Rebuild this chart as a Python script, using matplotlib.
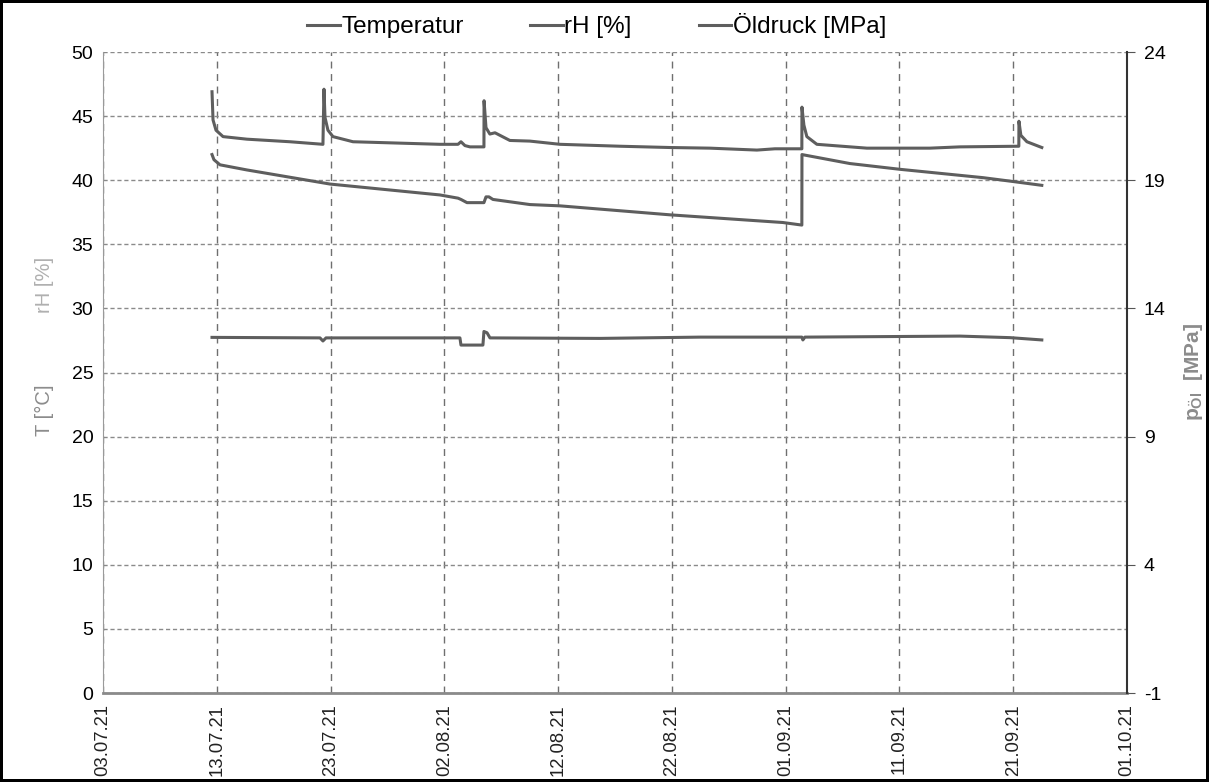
import numpy as np
import pandas as pd
import matplotlib
matplotlib.use("Agg")
import matplotlib.pyplot as plt
import matplotlib.dates as mdates

plt.rcParams['font.family'] = ['Liberation Sans', 'DejaVu Sans']
plt.rcParams['axes.unicode_minus'] = False
plt.rcParams['mathtext.fontset'] = 'custom'
plt.rcParams['mathtext.rm'] = 'Liberation Sans'
plt.rcParams['mathtext.bf'] = 'Liberation Sans:bold'

# start of the x range, all times below are days after this
START = pd.Timestamp('2021-07-03')
END = pd.Timestamp('2021-10-01')

# rH [%]
rh_days = [9.58, 9.67, 9.93, 10.55, 12.65, 16.43, 19.33, 19.42, 19.51, 19.77, 20.21, 21.97,
           29.61, 31.2, 31.46, 31.81, 32.25, 33.48, 33.49, 33.66, 34.0, 34.45, 35.76, 37.52,
           40.16, 45.43, 49.82, 53.34, 57.47, 59.05, 61.42, 61.43, 61.6, 61.86, 62.74, 67.14,
           72.67, 75.31, 80.49, 80.5, 80.67, 81.2, 82.51]
rh_vals = [46.9, 44.7, 43.9, 43.4, 43.2, 43.0, 42.8, 47.1, 44.9, 43.9, 43.4, 43.0,
           42.8, 42.8, 43.0, 42.7, 42.6, 42.6, 46.2, 44.1, 43.6, 43.7, 43.1, 43.05,
           42.8, 42.65, 42.55, 42.5, 42.35, 42.45, 42.45, 45.7, 44.3, 43.4, 42.8, 42.5,
           42.5, 42.6, 42.65, 44.6, 43.5, 43.0, 42.55]

# Temperatur [°C]
t_days = [9.58, 9.75, 10.28, 12.65, 19.95, 29.61, 31.2, 31.46, 31.99, 33.48, 33.66, 33.92,
          34.27, 37.52, 40.16, 49.82, 59.75, 61.42, 61.43, 65.64, 70.04, 77.33, 79.96, 82.51]
t_vals = [42.0, 41.6, 41.2, 40.8, 39.7, 38.85, 38.6, 38.5, 38.25, 38.25, 38.7, 38.7,
          38.5, 38.1, 38.0, 37.3, 36.7, 36.5, 42.0, 41.3, 40.85, 40.2, 39.9, 39.6]

# Öldruck [MPa]
p_days = [9.58, 19.07, 19.33, 19.6, 29.61, 31.37, 31.46, 33.39, 33.48, 33.75, 34.01,
          43.68, 52.47, 61.42, 61.51, 61.69, 75.31, 79.7, 82.51]
p_vals = [12.87, 12.85, 12.73, 12.85, 12.85, 12.85, 12.57, 12.57, 13.1, 13.05, 12.85,
          12.83, 12.88, 12.88, 12.77, 12.88, 12.92, 12.86, 12.77]

left_ticks = [0, 5, 10, 15, 20, 25, 30, 35, 40, 45, 50]
right_ticks = [-1, 4, 9, 14, 19, 24]

line_col = '#5e5e5e'


def to_dates(days):
    return START + pd.to_timedelta(days, unit='D')


fig = plt.figure(figsize=(12.09, 7.82), dpi=100)
fig.patch.set_edgecolor('black')
fig.patch.set_linewidth(3)
ax = fig.add_axes([0.0852, 0.1138, 0.847, 0.8197])
ax2 = ax.twinx()

l1, = ax.plot(to_dates(t_days), t_vals, color=line_col, lw=2.2, label='Temperatur')
l2, = ax.plot(to_dates(rh_days), rh_vals, color=line_col, lw=2.2, label='rH [%]')
l3, = ax2.plot(to_dates(p_days), p_vals, color=line_col, lw=2.2, label='Öldruck [MPa]')

ax.set_xlim(START, END)
ax.set_ylim(0, 50)
ax2.set_ylim(-1, 24)
ax.set_yticks(left_ticks)
ax2.set_yticks(right_ticks)
ax.set_xticks(pd.date_range(START, END, freq='10D'))
ax.xaxis.set_major_formatter(mdates.DateFormatter('%d.%m.%y'))
for lab in ax.get_xticklabels():
    lab.set_rotation(90)
    lab.set_fontsize(13.3)
    lab.set_color('#222222')
ax.tick_params(axis='y', labelsize=14, length=0, pad=7)
ax.tick_params(axis='x', length=0, pad=8)
ax2.tick_params(axis='y', labelsize=14, length=6, color='#555555', pad=6)

ax.grid(True, axis='y', color='#8a8a8a', ls=(0, (3, 2)), lw=1)
ax.grid(True, axis='x', color='#6f6f6f', ls=(0, (5, 4)), lw=1)
ax.set_axisbelow(True)

ax.spines['top'].set_visible(False)
ax2.spines['top'].set_visible(False)
ax.spines['left'].set_color('#9a9a9a')
ax2.spines['left'].set_visible(False)
ax.spines['bottom'].set_color('#8a8a8a')
ax.spines['bottom'].set_linewidth(2)
ax2.spines['bottom'].set_visible(False)
ax.spines['right'].set_visible(False)
ax2.spines['right'].set_color('#333333')
ax2.spines['right'].set_linewidth(1.5)

# axis titles
fig.text(0.037, 0.635, 'rH [%]', rotation=90, fontsize=14.5, color='#b0b0b0',
         ha='center', va='center')
fig.text(0.037, 0.475, 'T [°C]', rotation=90, fontsize=14.5, color='#8c8c8c',
         ha='center', va='center')
fig.text(0.987, 0.525, r'$\mathbf{p}_{\mathbf{Öl}}$  [MPa]', rotation=90, fontsize=15,
         color='#8c8c8c', fontweight='bold', ha='center', va='center')

fig.legend([l1, l2, l3], ['Temperatur', 'rH [%]', 'Öldruck [MPa]'],
           loc='center', bbox_to_anchor=(0.4935, 0.967), ncol=3, frameon=False,
           fontsize=17.5, handlelength=1.35, handletextpad=0.05, columnspacing=2.75,
           borderpad=0)

fig.savefig('out.png', dpi=100, edgecolor=fig.get_edgecolor())
